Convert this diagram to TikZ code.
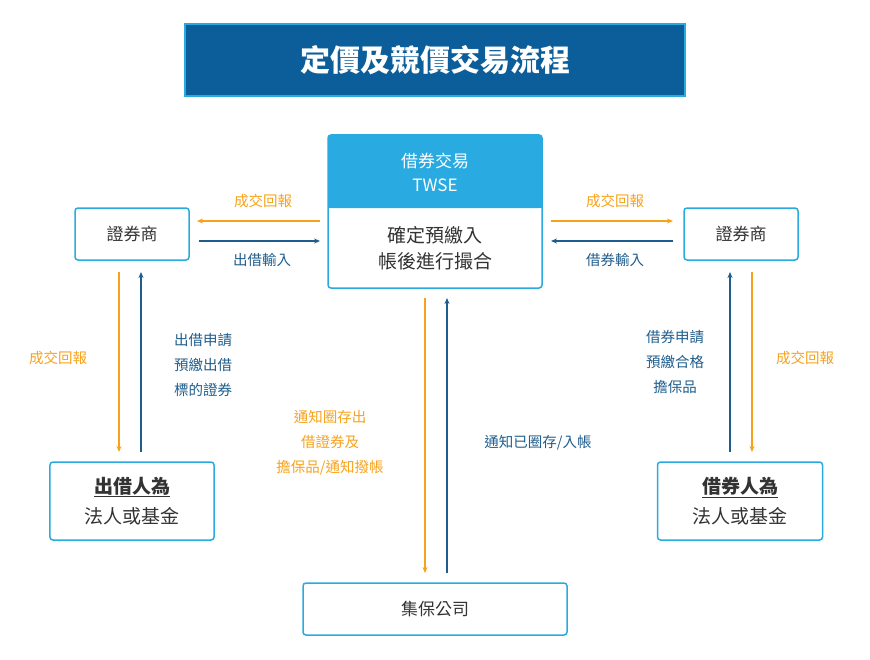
\documentclass[tikz,border=0pt]{standalone}
\usepackage{fontspec}
\setmainfont{Noto Sans CJK TC}
\usetikzlibrary{arrows.meta}
\definecolor{dblue}{HTML}{0B5E9A}
\definecolor{lblue}{HTML}{29ABE2}
\definecolor{orng}{HTML}{F7A21B}
\definecolor{abl}{HTML}{1F5D8C}
\definecolor{txt}{HTML}{333333}
\begin{document}
\begin{tikzpicture}[x=1bp,y=-1bp,
 box/.style={draw=lblue,line width=1.5bp,rounded corners=3bp,fill=white,text=txt,font=\fontsize{17bp}{21bp}\selectfont,align=center},
 oa/.style={orng,line width=1.3bp,-{Stealth[length=6bp,width=5bp]}},
 ba/.style={abl,line width=1.3bp,-{Stealth[length=6bp,width=5bp]}},
 ol/.style={text=orng,font=\fontsize{14.5bp}{25bp}\selectfont,align=center},
 bl/.style={text=abl,font=\fontsize{14.5bp}{25bp}\selectfont,align=center}]
\useasboundingbox (0,0) rectangle (870,660);
\node[draw=lblue,line width=1.5bp,fill=dblue,text=white,minimum width=500bp,minimum height=72bp,font=\fontsize{30bp}{34bp}\selectfont\bfseries] (title) at (435,60) {定價及競價交易流程};
% center box
\draw[lblue,line width=1.5bp,fill=white,rounded corners=3bp] (328,135) rectangle (542,288);
\fill[lblue,rounded corners=3bp] (328,135) rectangle (542,208);
\fill[lblue] (328,180) rectangle (542,208);
\node[text=white,font=\fontsize{17bp}{24bp}\selectfont,align=center] (tw) at (435,172) {借券交易\\TWSE};
\node[text=txt,font=\fontsize{19bp}{26bp}\selectfont,align=center] (cm) at (435,248) {確定預繳入\\帳後進行撮合};
\coordinate (c) at (435,211);
\node[box,minimum width=114bp,minimum height=52bp] (L) at (132,234) {證券商};
\node[box,minimum width=114bp,minimum height=52bp] (R) at (741,234) {證券商};
\node[box,minimum width=164bp,minimum height=78bp,font=\fontsize{19bp}{30bp}\selectfont] (LB) at (132,501) {\textbf{\underline{出借人為}}\\法人或基金};
\node[box,minimum width=165bp,minimum height=78bp,font=\fontsize{19bp}{30bp}\selectfont] (RB) at (740,501) {\textbf{\underline{借券人為}}\\法人或基金};
\node[box,minimum width=264bp,minimum height=52bp] (B) at (435,609) {集保公司};
% horizontal arrows
\coordinate (a1) at (320,221); \coordinate (a2) at (197,221);
\draw[oa] (a1) -- (a2);
\coordinate (a3) at (199,241); \coordinate (a4) at (320,241);
\draw[ba] (a3) -- (a4);
\coordinate (a5) at (551,221); \coordinate (a6) at (673,221);
\draw[oa] (a5) -- (a6);
\coordinate (a7) at (673,241); \coordinate (a8) at (551,241);
\draw[ba] (a7) -- (a8);
\node[ol] (t1) at (263,201) {成交回報};
\node[bl] (t2) at (262,260) {出借輸入};
\node[ol] (t3) at (615,201) {成交回報};
\node[bl] (t4) at (615,260) {借券輸入};
% verticals
\coordinate (v1) at (119,272); \coordinate (v2) at (119,452);
\draw[oa] (v1) -- (v2);
\coordinate (v3) at (141,452); \coordinate (v4) at (141,272);
\draw[ba] (v3) -- (v4);
\node[ol] (t5) at (58,358) {成交回報};
\node[bl] (t6) at (203,365) {出借申請\\預繳出借\\標的證券};
\coordinate (v5) at (730,452); \coordinate (v6) at (730,272);
\draw[ba] (v5) -- (v6);
\coordinate (v7) at (752,272); \coordinate (v8) at (752,452);
\draw[oa] (v7) -- (v8);
\node[bl] (t7) at (675,362) {借券申請\\預繳合格\\擔保品};
\node[ol] (t8) at (805,358) {成交回報};
\coordinate (v9) at (425,298); \coordinate (v10) at (425,573);
\draw[oa] (v9) -- (v10);
\coordinate (v11) at (447,573); \coordinate (v12) at (447,298);
\draw[ba] (v11) -- (v12);
\node[ol] (t9) at (330,443) {通知圈存出\\借證券及\\擔保品/通知撥帳};
\node[bl] (t10) at (538,443) {通知已圈存/入帳};
\end{tikzpicture}
\end{document}
